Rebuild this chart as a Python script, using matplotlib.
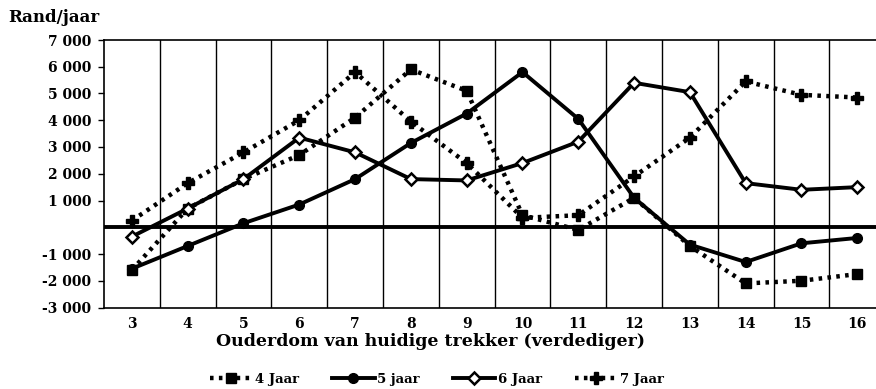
import matplotlib
matplotlib.use("Agg")
import matplotlib.pyplot as plt
from matplotlib.ticker import FuncFormatter

# Age of the current tractor (defender), years
ages = [3, 4, 5, 6, 7, 8, 9, 10, 11, 12, 13, 14, 15, 16]

# Annual benefit (Rand/year) per replacement age
jaar4 = [-1600, 700, 1800, 2700, 4100, 5900, 5100, 450, -100, 1100, -700, -2100, -2000, -1750]
jaar5 = [-1550, -700, 150, 850, 1800, 3150, 4250, 5800, 4050, 1100, -650, -1300, -600, -400]
jaar6 = [-350, 700, 1800, 3350, 2800, 1800, 1750, 2400, 3200, 5400, 5050, 1650, 1400, 1500]
jaar7 = [250, 1650, 2800, 4000, 5800, 3950, 2400, 350, 450, 1900, 3350, 5450, 4950, 4850]

series_labels = ["4 Jaar", "5 jaar", "6 Jaar", "7 Jaar"]
y_ticks = [-3000, -2000, -1000, 1000, 2000, 3000, 4000, 5000, 6000, 7000]

plt.rcParams["font.family"] = ["DejaVu Serif"]
plt.rcParams["font.weight"] = "bold"

fig = plt.figure(figsize=(8.76, 3.89), dpi=100)
ax = fig.add_axes([104 / 876, 1 - 307.5 / 389, 1 - 104 / 876, (307.5 - 40) / 389])

dot = (0, (0.8, 1.2))
ax.plot(ages, jaar4, color="black", lw=3.2, ls=dot, marker="s", ms=7.5,
        markerfacecolor="black", label=series_labels[0], zorder=3)
ax.plot(ages, jaar5, color="black", lw=2.8, ls="-", marker="o", ms=7,
        markerfacecolor="black", label=series_labels[1], zorder=3)
ax.plot(ages, jaar6, color="black", lw=2.8, ls="-", marker="D", ms=6,
        markerfacecolor="white", markeredgewidth=1.8, label=series_labels[2], zorder=3)
ax.plot(ages, jaar7, color="black", lw=3.2, ls=dot, marker="P", ms=8.5,
        markerfacecolor="black", label=series_labels[3], zorder=3)

# zero reference line and category separators
ax.axhline(0, color="black", lw=2.8, zorder=2)
for b in range(3, 16):
    ax.axvline(b + 0.5, color="black", lw=1.0, zorder=1)

ax.set_xlim(2.5, 2.5 + (876 - 104) / 55.8)
ax.set_ylim(-3000, 7000)
ax.set_xticks(ages)
ax.set_yticks(y_ticks)
ax.yaxis.set_major_formatter(FuncFormatter(lambda v, p: f"{int(v):,}".replace(",", " ")))
ax.tick_params(axis="x", length=0, labelsize=10, pad=7)
ax.tick_params(axis="y", length=4, width=1, direction="out", labelsize=10, pad=5)
for lbl in ax.get_xticklabels() + ax.get_yticklabels():
    lbl.set_fontweight("bold")

ax.spines["right"].set_visible(False)
for s in ("left", "top", "bottom"):
    ax.spines[s].set_linewidth(1.2)

ax.set_xlabel("Ouderdom van huidige trekker (verdediger)", fontsize=12.5,
              fontweight="bold", labelpad=1)
ax.xaxis.set_label_coords((431 - 104) / (876 - 104), -0.095)
fig.text(8 / 876, 1 - 17 / 389, "Rand/jaar", fontsize=12, fontweight="bold",
         va="center", ha="left")

fig.legend(loc="center", bbox_to_anchor=(437 / 876, 1 - 379 / 389), ncol=4,
           frameon=False, handlelength=3.2, columnspacing=2.5,
           handletextpad=0.2, prop={"weight": "bold", "size": 9.5})

fig.savefig("out.png", dpi=100)
